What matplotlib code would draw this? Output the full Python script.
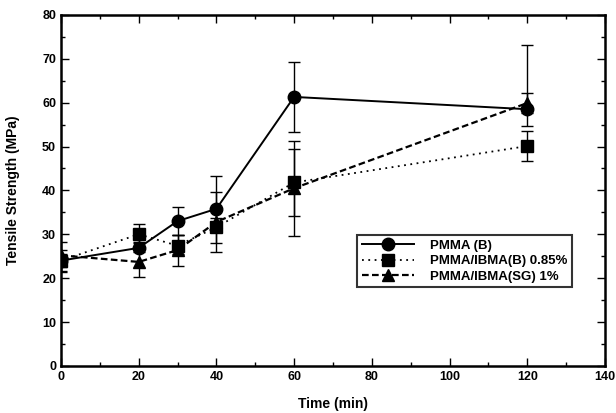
import matplotlib
matplotlib.use("Agg")
import matplotlib.pyplot as plt
from matplotlib.ticker import MultipleLocator
from matplotlib.lines import Line2D

plt.rcParams['font.family'] = ['Liberation Sans', 'DejaVu Sans']

time = [0, 20, 30, 40, 60, 120]

pmma_b = [24.0, 26.9, 33.0, 35.8, 61.3, 58.5]
pmma_b_lo = [1.5, 1.0, 3.2, 2.0, 8.0, 3.8]
pmma_b_hi = [1.5, 1.0, 3.2, 7.5, 8.0, 14.6]

ibma_b = [24.0, 30.0, 27.4, 31.6, 41.8, 50.1]
ibma_b_lo = [2.4, 1.8, 2.0, 3.6, 7.7, 3.4]
ibma_b_hi = [2.4, 2.3, 2.4, 3.6, 7.7, 3.4]

ibma_sg = [25.2, 23.7, 26.4, 32.8, 40.5, 59.9]
ibma_sg_lo = [3.8, 3.4, 3.6, 6.8, 10.8, 2.3]
ibma_sg_hi = [3.0, 3.4, 3.4, 6.8, 10.8, 2.3]

labels = ['PMMA (B)', 'PMMA/IBMA(B) 0.85%', 'PMMA/IBMA(SG) 1%']

fig = plt.figure(figsize=(6.16, 4.13), dpi=100)
ax = fig.add_axes([0.099, 0.114, 0.883, 0.850])

common = dict(color='black', ecolor='black', elinewidth=1.0, capsize=4, capthick=1.0)
styles = [
    dict(marker='o', markersize=9, linestyle='-', linewidth=1.4),
    dict(marker='s', markersize=8.5, linestyle=(0, (1, 2.5)), linewidth=1.3),
    dict(marker='^', markersize=8.5, linestyle=(0, (3, 1.5)), linewidth=1.6),
]
series = [(pmma_b, pmma_b_lo, pmma_b_hi), (ibma_b, ibma_b_lo, ibma_b_hi),
          (ibma_sg, ibma_sg_lo, ibma_sg_hi)]
handles = []
for (vals, lo, hi), st, lab in zip(series, styles, labels):
    ax.errorbar(time, vals, yerr=[lo, hi], **st, **common)
    handles.append(Line2D([], [], color='black', **st, label=lab))

ax.set_xlim(0, 140)
ax.set_ylim(0, 80)
ax.xaxis.set_major_locator(MultipleLocator(20))
ax.xaxis.set_minor_locator(MultipleLocator(10))
ax.yaxis.set_major_locator(MultipleLocator(10))
ax.yaxis.set_minor_locator(MultipleLocator(5))
ax.tick_params(which='both', direction='in', top=True, right=True, width=1.0)
ax.tick_params(which='major', length=6, labelsize=9)
ax.tick_params(which='minor', length=3)
for lab in ax.get_xticklabels() + ax.get_yticklabels():
    lab.set_fontweight('bold')
for sp in ax.spines.values():
    sp.set_linewidth(1.8)

ax.set_xlabel('Time (min)', fontsize=10, fontweight='bold', labelpad=10)
ax.set_ylabel('Tensile Strength (MPa)', fontsize=10, fontweight='bold', labelpad=16)

leg = ax.legend(handles=handles, loc='lower right', bbox_to_anchor=(0.952, 0.205),
                frameon=True, fancybox=False, edgecolor='black', handlelength=4.0,
                prop={'weight': 'bold', 'size': 9.5}, borderpad=0.35, labelspacing=0.25,
                handletextpad=1.2)
leg.get_frame().set_linewidth(1.5)

fig.savefig('out.png', dpi=100)
